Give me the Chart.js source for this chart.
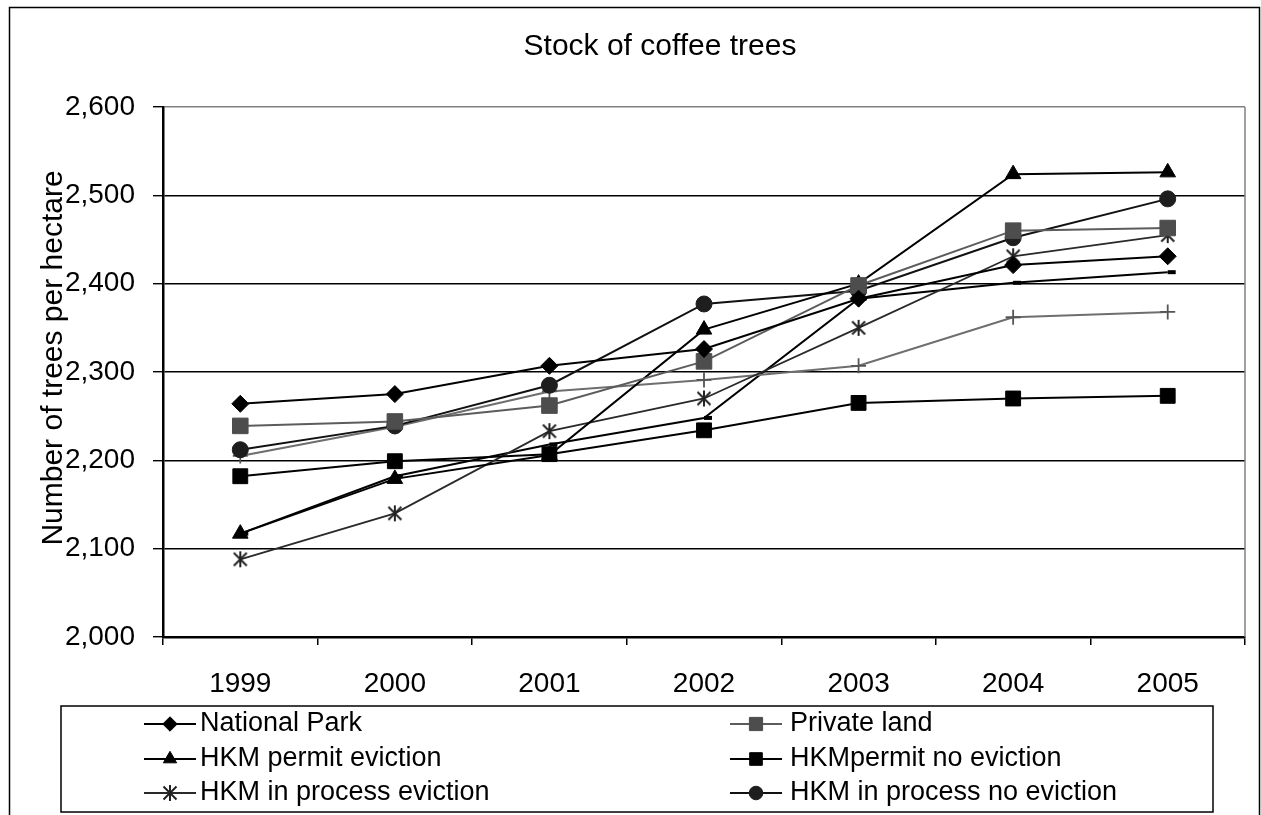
<!DOCTYPE html>
<html>
<head>
<meta charset="utf-8">
<title>Stock of coffee trees</title>
<script src="https://cdn.jsdelivr.net/npm/chart.js@4.4.1/dist/chart.umd.min.js"></script>
<style>
  html, body { margin: 0; padding: 0; background: #fff; }
  #wrap { width: 1261px; height: 815px; }
</style>
</head>
<body>
<div id="wrap"><canvas id="chart" width="1261" height="815"></canvas></div>
<script>
// values (trees per hectare)
const years = ['1999', '2000', '2001', '2002', '2003', '2004', '2005'];
const nationalPark = [2264, 2275, 2307, 2326, 2383, 2421, 2431];
const privateLand = [2239, 2244, 2262, 2312, 2398, 2460, 2463];
const permitEviction = [2117, 2179, 2206, 2348, 2400, 2524, 2526];
const permitNoEviction = [2182, 2199, 2207, 2234, 2265, 2270, 2273];
const processEviction = [2088, 2140, 2233, 2270, 2350, 2431, 2455];
const processNoEviction = [2212, 2239, 2285, 2377, 2392, 2452, 2496];
// two more series are plotted but their legend rows are cut off
const extraPlus = [2205, 2238, 2278, 2291, 2307, 2362, 2368];
const extraDash = [2117, 2182, 2218, 2248, 2383, 2401, 2413];
const yTicks = [2000, 2100, 2200, 2300, 2400, 2500, 2600];

const FONT = '"Liberation Sans", Arial, Helvetica, sans-serif';

// Excel style asterisk marker (X plus a vertical bar)
function asterisk(color) {
  const c = document.createElement('canvas');
  c.width = 18; c.height = 18;
  const g = c.getContext('2d');
  g.strokeStyle = color;
  g.lineWidth = 2;
  g.beginPath();
  g.moveTo(2.5, 2.5); g.lineTo(15.5, 15.5);
  g.moveTo(15.5, 2.5); g.lineTo(2.5, 15.5);
  g.moveTo(9, 1); g.lineTo(9, 17);
  g.stroke();
  return c;
}
const starImg = asterisk('#222');

const datasets = [
  { label: 'National Park', data: nationalPark, borderColor: '#000', borderWidth: 2,
    pointStyle: 'rectRot', pointRadius: 8.5, pointBackgroundColor: '#000', pointBorderColor: '#000', pointBorderWidth: 1 },
  { label: 'Private land', data: privateLand, borderColor: '#5c5c5c', borderWidth: 2,
    pointStyle: 'rect', pointRadius: 11, pointBackgroundColor: '#4d4d4d', pointBorderColor: '#4d4d4d', pointBorderWidth: 1 },
  { label: 'HKM permit eviction', data: permitEviction, borderColor: '#000', borderWidth: 2,
    pointStyle: 'triangle', pointRadius: 9, pointBackgroundColor: '#000', pointBorderColor: '#000', pointBorderWidth: 1 },
  { label: 'HKMpermit no eviction', data: permitNoEviction, borderColor: '#000', borderWidth: 2,
    pointStyle: 'rect', pointRadius: 10.5, pointBackgroundColor: '#000', pointBorderColor: '#000', pointBorderWidth: 1 },
  { label: 'HKM in process eviction', data: processEviction, borderColor: '#2a2a2a', borderWidth: 1.8,
    pointStyle: starImg, pointRadius: 9, pointBackgroundColor: '#222', pointBorderColor: '#222' },
  { label: 'HKM in process no eviction', data: processNoEviction, borderColor: '#111', borderWidth: 2,
    pointStyle: 'circle', pointRadius: 8, pointBackgroundColor: '#1e1e1e', pointBorderColor: '#1e1e1e', pointBorderWidth: 1 },
  { label: 'series 7', data: extraPlus, borderColor: '#6e6e6e', borderWidth: 2,
    pointStyle: 'cross', pointRadius: 7.5, pointBackgroundColor: '#555', pointBorderColor: '#555', pointBorderWidth: 1.8 },
  { label: 'series 8', data: extraDash, borderColor: '#000', borderWidth: 2,
    pointStyle: 'dash', pointRadius: 8, pointBackgroundColor: '#000', pointBorderColor: '#000', pointBorderWidth: 4 }
];
datasets.forEach(d => { d.fill = false; d.tension = 0; });

// frame, title, y axis title, plot border and the (cut off) legend box
const excelDecor = {
  id: 'excelDecor',
  afterDraw(chart) {
    const ctx = chart.ctx;
    const area = chart.chartArea;
    ctx.save();

    // outer chart frame, bottom edge is off the page
    ctx.strokeStyle = '#000';
    ctx.lineWidth = 1.5;
    ctx.beginPath();
    ctx.moveTo(9.5, 830); ctx.lineTo(9.5, 7.5); ctx.lineTo(1259.5, 7.5); ctx.lineTo(1259.5, 830);
    ctx.stroke();

    // grey right edge of plot area
    ctx.strokeStyle = '#808080';
    ctx.lineWidth = 1.5;
    ctx.beginPath();
    ctx.moveTo(area.right, area.top); ctx.lineTo(area.right, area.bottom);
    ctx.stroke();

    // title
    ctx.fillStyle = '#000';
    ctx.font = '30px ' + FONT;
    ctx.textAlign = 'center';
    ctx.textBaseline = 'alphabetic';
    ctx.fillText('Stock of coffee trees', 660, 55);

    // y axis title (overlaps the tick labels, as in the original)
    ctx.save();
    ctx.translate(62, 358);
    ctx.rotate(-Math.PI / 2);
    ctx.fillText('Number of trees per hectare', 0, 0);
    ctx.restore();

    // legend box
    ctx.strokeStyle = '#000';
    ctx.lineWidth = 1.5;
    ctx.strokeRect(61, 706, 1152, 106);

    const rows = [724, 759, 793];
    const cols = [{ mark: 170, text: 200 }, { mark: 756, text: 790 }];
    ctx.font = '27px ' + FONT;
    ctx.textAlign = 'left';
    ctx.textBaseline = 'middle';
    for (let i = 0; i < 6; i++) {
      const ds = datasets[i];
      const col = cols[i % 2];
      const y = rows[Math.floor(i / 2)];
      ctx.strokeStyle = ds.borderColor;
      ctx.lineWidth = ds.borderWidth;
      ctx.beginPath();
      ctx.moveTo(col.mark - 26, y); ctx.lineTo(col.mark + 26, y);
      ctx.stroke();
      ctx.fillStyle = ds.pointBackgroundColor;
      ctx.strokeStyle = ds.pointBorderColor;
      ctx.lineWidth = ds.pointBorderWidth || 1;
      if (typeof ds.pointStyle === 'string') {
        Chart.helpers.drawPoint(ctx, {
          pointStyle: ds.pointStyle, radius: ds.pointRadius * 0.85,
          borderWidth: ds.pointBorderWidth || 1, rotation: 0
        }, col.mark, y);
      } else {
        const img = ds.pointStyle;
        ctx.drawImage(img, col.mark - img.width / 2, y - img.height / 2);
      }
      ctx.fillStyle = '#000';
      ctx.fillText(ds.label, col.text, y);
    }
    ctx.restore();
  }
};

new Chart(document.getElementById('chart'), {
  type: 'line',
  data: { labels: years, datasets: datasets },
  options: {
    responsive: false,
    animation: false,
    devicePixelRatio: 1,
    events: [],
    layout: { padding: { top: 107, right: 16, bottom: 0, left: 0 } },
    plugins: {
      legend: { display: false },
      tooltip: { enabled: false },
      title: { display: false }
    },
    scales: {
      x: {
        type: 'category',
        offset: true,
        afterFit(scale) { scale.height = 178; },
        grid: {
          offset: true,
          drawOnChartArea: false,
          drawTicks: true,
          tickLength: 8,
          color: '#000',
          lineWidth: 1.5
        },
        border: { color: '#000', width: 2.5 },
        ticks: {
          color: '#000',
          font: { family: FONT, size: 28 },
          padding: 22,
          maxRotation: 0,
          autoSkip: false
        }
      },
      y: {
        min: 2000,
        max: 2600,
        afterFit(scale) { scale.width = 163; },
        afterBuildTicks(scale) { scale.ticks = yTicks.map(v => ({ value: v })); },
        grid: {
          color: ctx => (ctx.tick && ctx.tick.value === 2600) ? '#808080' : '#000',
          lineWidth: 1.4,
          drawTicks: true,
          tickLength: 10,
          tickColor: '#000'
        },
        border: { color: '#000', width: 2.5 },
        ticks: {
          color: '#000',
          font: { family: FONT, size: 28 },
          padding: 18,
          callback: v => Number(v).toLocaleString('en-US')
        }
      }
    }
  },
  plugins: [excelDecor]
});
</script>
</body>
</html>
